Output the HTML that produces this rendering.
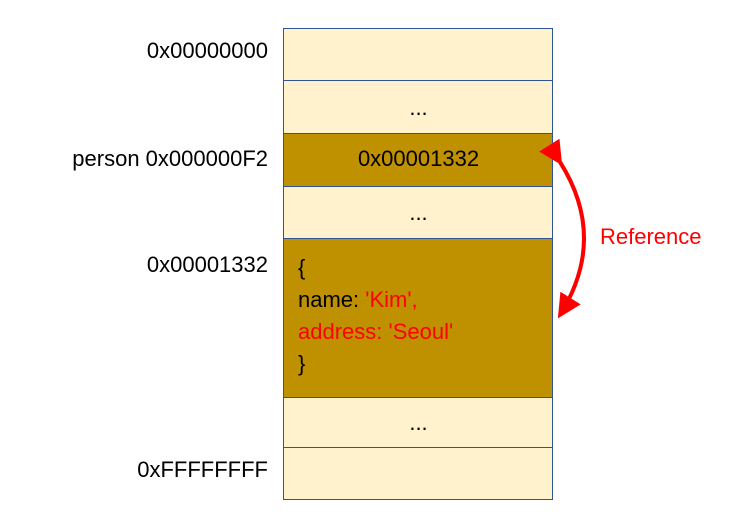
<!DOCTYPE html>
<html><head><meta charset="utf-8"><style>
body{margin:0;background:#fff;width:745px;height:520px;position:relative;overflow:hidden;font-family:"Liberation Sans","DejaVu Sans",sans-serif;}
.r{position:absolute;left:283px;width:268px;border:1.5px solid #2f5597;box-sizing:content-box;}
.l{background:#fff2cc}.d{background:#bf9000}
.t{position:absolute;font-size:22px;color:#000;white-space:nowrap}
</style></head><body>
<div class="r l" style="top:28px;height:51px"></div>
<div class="r l" style="top:80px;height:52px"></div>
<div class="r d" style="top:133px;height:52px"></div>
<div class="r l" style="top:186px;height:51px"></div>
<div class="r d" style="top:238px;height:158px"></div>
<div class="r l" style="top:397px;height:49px"></div>
<div class="r l" style="top:447px;height:51px"></div>

<div class="t" style="right:477px;top:38px">0x00000000</div>
<div class="t" style="right:477px;top:146px">person 0x000000F2</div>
<div class="t" style="right:477px;top:252px">0x00001332</div>
<div class="t" style="right:477px;top:457px">0xFFFFFFFF</div>

<div class="t" style="left:283px;width:271px;text-align:center;top:95px">...</div>
<div class="t" style="left:283px;width:271px;text-align:center;top:146px">0x00001332</div>
<div class="t" style="left:283px;width:271px;text-align:center;top:200px">...</div>
<div class="t" style="left:283px;width:271px;text-align:center;top:410px">...</div>

<div class="t" style="left:298px;top:252px;line-height:32px">{<br>name: <span style="color:#f00">'Kim',</span><br><span style="color:#f00">address: 'Seoul'</span><br>}</div>

<div class="t" style="left:600px;top:224px;color:#f00">Reference</div>

<svg width="745" height="520" style="position:absolute;left:0;top:0">
<defs><marker id="a" markerWidth="6" markerHeight="6" refX="5" refY="3" orient="auto"><path d="M0,0 L6,3 L0,6 z" fill="#f00"/></marker></defs>
<path d="M560,162 Q608,238 560,315" fill="none" stroke="#f00" stroke-width="4" marker-start="url(#a)" marker-end="url(#a)"/>
</svg>
</body></html>
